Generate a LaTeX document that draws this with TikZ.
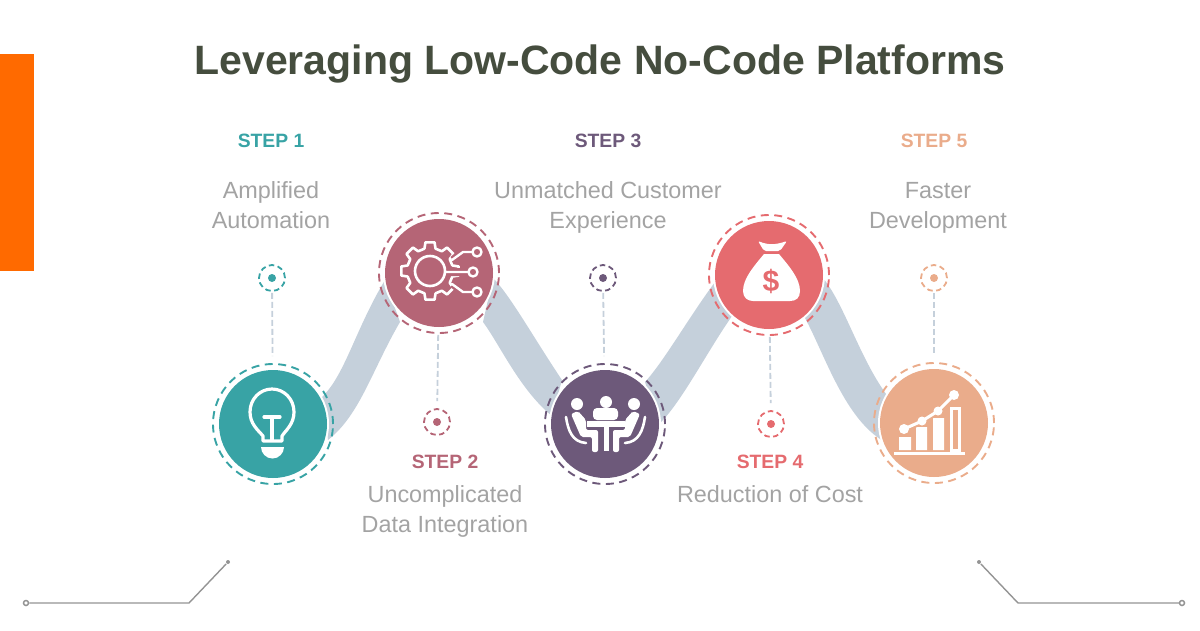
\documentclass[tikz,border=0pt]{standalone}
\usepackage{fontspec}
\setmainfont{Liberation Sans}
\usetikzlibrary{calc}
\definecolor{tealc}{HTML}{38A3A5}
\definecolor{rosec}{HTML}{B56576}
\definecolor{plumc}{HTML}{6D597A}
\definecolor{redc}{HTML}{E56B6F}
\definecolor{peachc}{HTML}{EAAC8B}
\definecolor{bandc}{HTML}{C5D0DB}
\definecolor{titlec}{HTML}{454D3E}
\definecolor{bodyc}{HTML}{A3A3A3}
\definecolor{orangec}{HTML}{FF6A00}
\begin{document}
\begin{tikzpicture}[x=1pt,y=-1pt,line width=1.5pt,
  disc/.style={circle,inner sep=0pt,minimum size=108pt,fill=#1},
  halo/.style={circle,inner sep=0pt,minimum size=120pt,draw=#1,line width=1.9pt,dash pattern=on 8pt off 5.5pt},
  pin/.style={circle,inner sep=0pt,minimum size=26pt,draw=#1,line width=1.8pt,dash pattern=on 5.5pt off 3.5pt},
  pindot/.style={circle,inner sep=0pt,minimum size=8pt,fill=#1},
  link/.style={draw=bandc,line width=1.8pt,dash pattern=on 6pt off 3pt,shorten >=7pt,shorten <=1pt},
  steplabel/.style={text=#1,font=\fontsize{19.3}{24}\selectfont\bfseries},
  bodytext/.style={text=bodyc,align=center,anchor=base,font=\fontsize{23.4}{30}\selectfont},
  iconline/.style={draw=white,line width=3.2pt,line join=round,line cap=round},
  deco/.style={draw=black!42,line width=1.4pt}]
  \useasboundingbox (0,0) rectangle (1200,630);
  % barra
  \fill[orangec] (0,54) rectangle (34,271);
  \node[text=titlec,font=\fontsize{41}{48}\selectfont\bfseries] (title) at (600,63.5) {Leveraging Low-Code No-Code Platforms};
  % ondas
  \fill[bandc] (322,397) .. controls (345,375) and (355,330) .. (385,280) -- (400,322) .. controls (372,370) and (360,415) .. (328,440) -- cycle;
  \fill[bandc] (493,278) .. controls (510,295) and (535,340) .. (562,380) -- (552,416) .. controls (520,390) and (500,345) .. (483,322) -- cycle;
  \fill[bandc] (645,382) .. controls (665,360) and (690,315) .. (718,278) -- (732,316) .. controls (705,355) and (680,405) .. (658,425) -- cycle;
  \fill[bandc] (823,278) .. controls (845,305) and (860,360) .. (889,398) -- (885,442) .. controls (845,420) and (825,355) .. (805,318) -- cycle;
  % circulos
  \foreach \n/\x/\y/\px/\py/\col in {1/273/424/272/278/tealc,2/439/273/437/422/rosec,3/605/424/603/278/plumc,4/769/275/771/424/redc,5/934/423/934/278/peachc}{
    \node[circle,inner sep=0pt,minimum size=112pt,fill=white] (gap\n) at (\x,\y) {};
    \node[disc=\col] (disc\n) at (\x,\y) {};
    \node[halo=\col] (halo\n) at (\x,\y) {};
    \node[pin=\col] (pin\n) at (\px,\py) {};
    \node[pindot=\col] (dot\n) at (\px,\py) {};
  }
  \draw[link] (pin1) -- (halo1);
  \draw[link] (halo2) -- (pin2);
  \draw[link] (pin3) -- (halo3);
  \draw[link] (halo4) -- (pin4);
  \draw[link] (pin5) -- (halo5);
  % textos
  \node[steplabel=tealc] (step1) at (271,141) {STEP 1};
  \node[steplabel=plumc] (step3) at (608,141) {STEP 3};
  \node[steplabel=peachc] (step5) at (934,141) {STEP 5};
  \node[steplabel=rosec] (step2) at (445,462) {STEP 2};
  \node[steplabel=redc] (step4) at (770,462) {STEP 4};
  \node[bodytext] (text1) at (271,228) {Amplified\\Automation};
  \node[bodytext] (text3) at (608,228) {Unmatched Customer\\Experience};
  \node[bodytext] (text5) at (938,228) {Faster\\Development};
  \node[bodytext] (text2) at (445,532) {Uncomplicated\\Data Integration};
  \node[bodytext] (text4) at (770,502) {Reduction of Cost};
  % bombilla
  \draw[iconline] (263,441) -- (263,436) .. controls (258,430) and (250,424) .. (250,412) .. controls (250,399) and (260,389) .. (272,389) .. controls (284,389) and (294,399) .. (294,412) .. controls (294,424) and (286,430) .. (282,436) -- (282,441) -- cycle;
  \draw[iconline] (264,417) -- (280,417) (272,417) -- (272,440);
  \fill[white] (261,447) -- (284,447) arc[start angle=0,end angle=-180,radius=11.5pt] -- cycle;
  % engranaje
  \begin{scope}[shift={(430,271)}]
    \draw[iconline,line width=2.6pt] foreach \a in {0,45,...,315}{(\a-14:23) -- (\a-9:29) -- (\a+9:29) -- (\a+14:23) -- (\a+31:23)};
    \draw[iconline,line width=2.6pt] (0,0) circle (15);
  \end{scope}
  \draw[rosec,line width=8pt] (448,272) -- (468,272) (453,260) -- (463,252) (453,284) -- (463,292);
  \draw[iconline,line width=2.4pt] (446,272) -- (468,272) (452,260) -- (463,252) -- (472,252) (452,284) -- (463,292) -- (472,292);
  \draw[iconline,line width=2.4pt] (477,252) circle (4.5) (473,272) circle (4.5) (477,292) circle (4.5);
  % reunion
  \fill[white] (577,404) circle (6) (606,402) circle (6) (634,404) circle (6);
  \fill[white,rounded corners=4pt] (593,420) -- (593,408) -- (618,408) -- (618,420) -- cycle;
  \fill[white] (587,421) rectangle (625,427);
  \draw[white,line width=5pt] (606,427) -- (606,451);
  \fill[white,rounded corners=2pt] (571,414) -- (578,411) -- (586,420) -- (586,430) -- (598,430) -- (598,452) -- (592,452) -- (592,437) -- (581,437) -- cycle;
  \fill[white,rounded corners=2pt] (640,414) -- (633,411) -- (625,420) -- (625,430) -- (613,430) -- (613,452) -- (619,452) -- (619,437) -- (630,437) -- cycle;
  \draw[iconline,line width=2.6pt] (566,417) .. controls (568,430) and (572,442) .. (586,443) (645,417) .. controls (643,430) and (639,442) .. (625,443);
  % bolsa
  \fill[white,rounded corners=2pt] (758,241) .. controls (768,245) and (775,245) .. (787,241) -- (780,251) -- (764,251) -- cycle;
  \fill[white] (764,254) .. controls (755,265) and (743,278) .. (743,291) .. controls (743,298) and (748,301) .. (753,301) -- (790,301) .. controls (796,301) and (800,298) .. (800,291) .. controls (800,278) and (788,265) .. (779,254) -- cycle;
  \node[text=redc,font=\fontsize{30}{30}\selectfont\bfseries] (dollar) at (771,281) {\$};
  % grafica
  \fill[white] (899,437) rectangle (911,450) (916,427) rectangle (927,450) (933,418) rectangle (944,450);
  \draw[white,line width=3pt] (951,408) rectangle (959,450);
  \draw[white,line width=3pt] (894,453) -- (965,453);
  \draw[peachc,line width=7pt] (904,429) -- (922,421) -- (938,411) -- (954,395);
  \draw[white,line width=3pt] (904,429) -- (922,421) -- (938,411) -- (954,395);
  \fill[white] (904,429) circle (5) (922,421) circle (4.5) (938,411) circle (4.5) (954,395) circle (5);
  % adornos
  \node[circle,inner sep=0pt,minimum size=5pt,draw=black!42] (endl) at (26,603) {};
  \coordinate (kneel) at (189,603);
  \node[circle,inner sep=0pt,minimum size=4pt,fill=black!42] (tipl) at (228,562) {};
  \draw[deco] (endl) -- (kneel) -- (tipl);
  \node[circle,inner sep=0pt,minimum size=5pt,draw=black!42] (endr) at (1182,603) {};
  \coordinate (kneer) at (1018,603);
  \node[circle,inner sep=0pt,minimum size=4pt,fill=black!42] (tipr) at (979,562) {};
  \draw[deco] (endr) -- (kneer) -- (tipr);
\end{tikzpicture}
\end{document}
